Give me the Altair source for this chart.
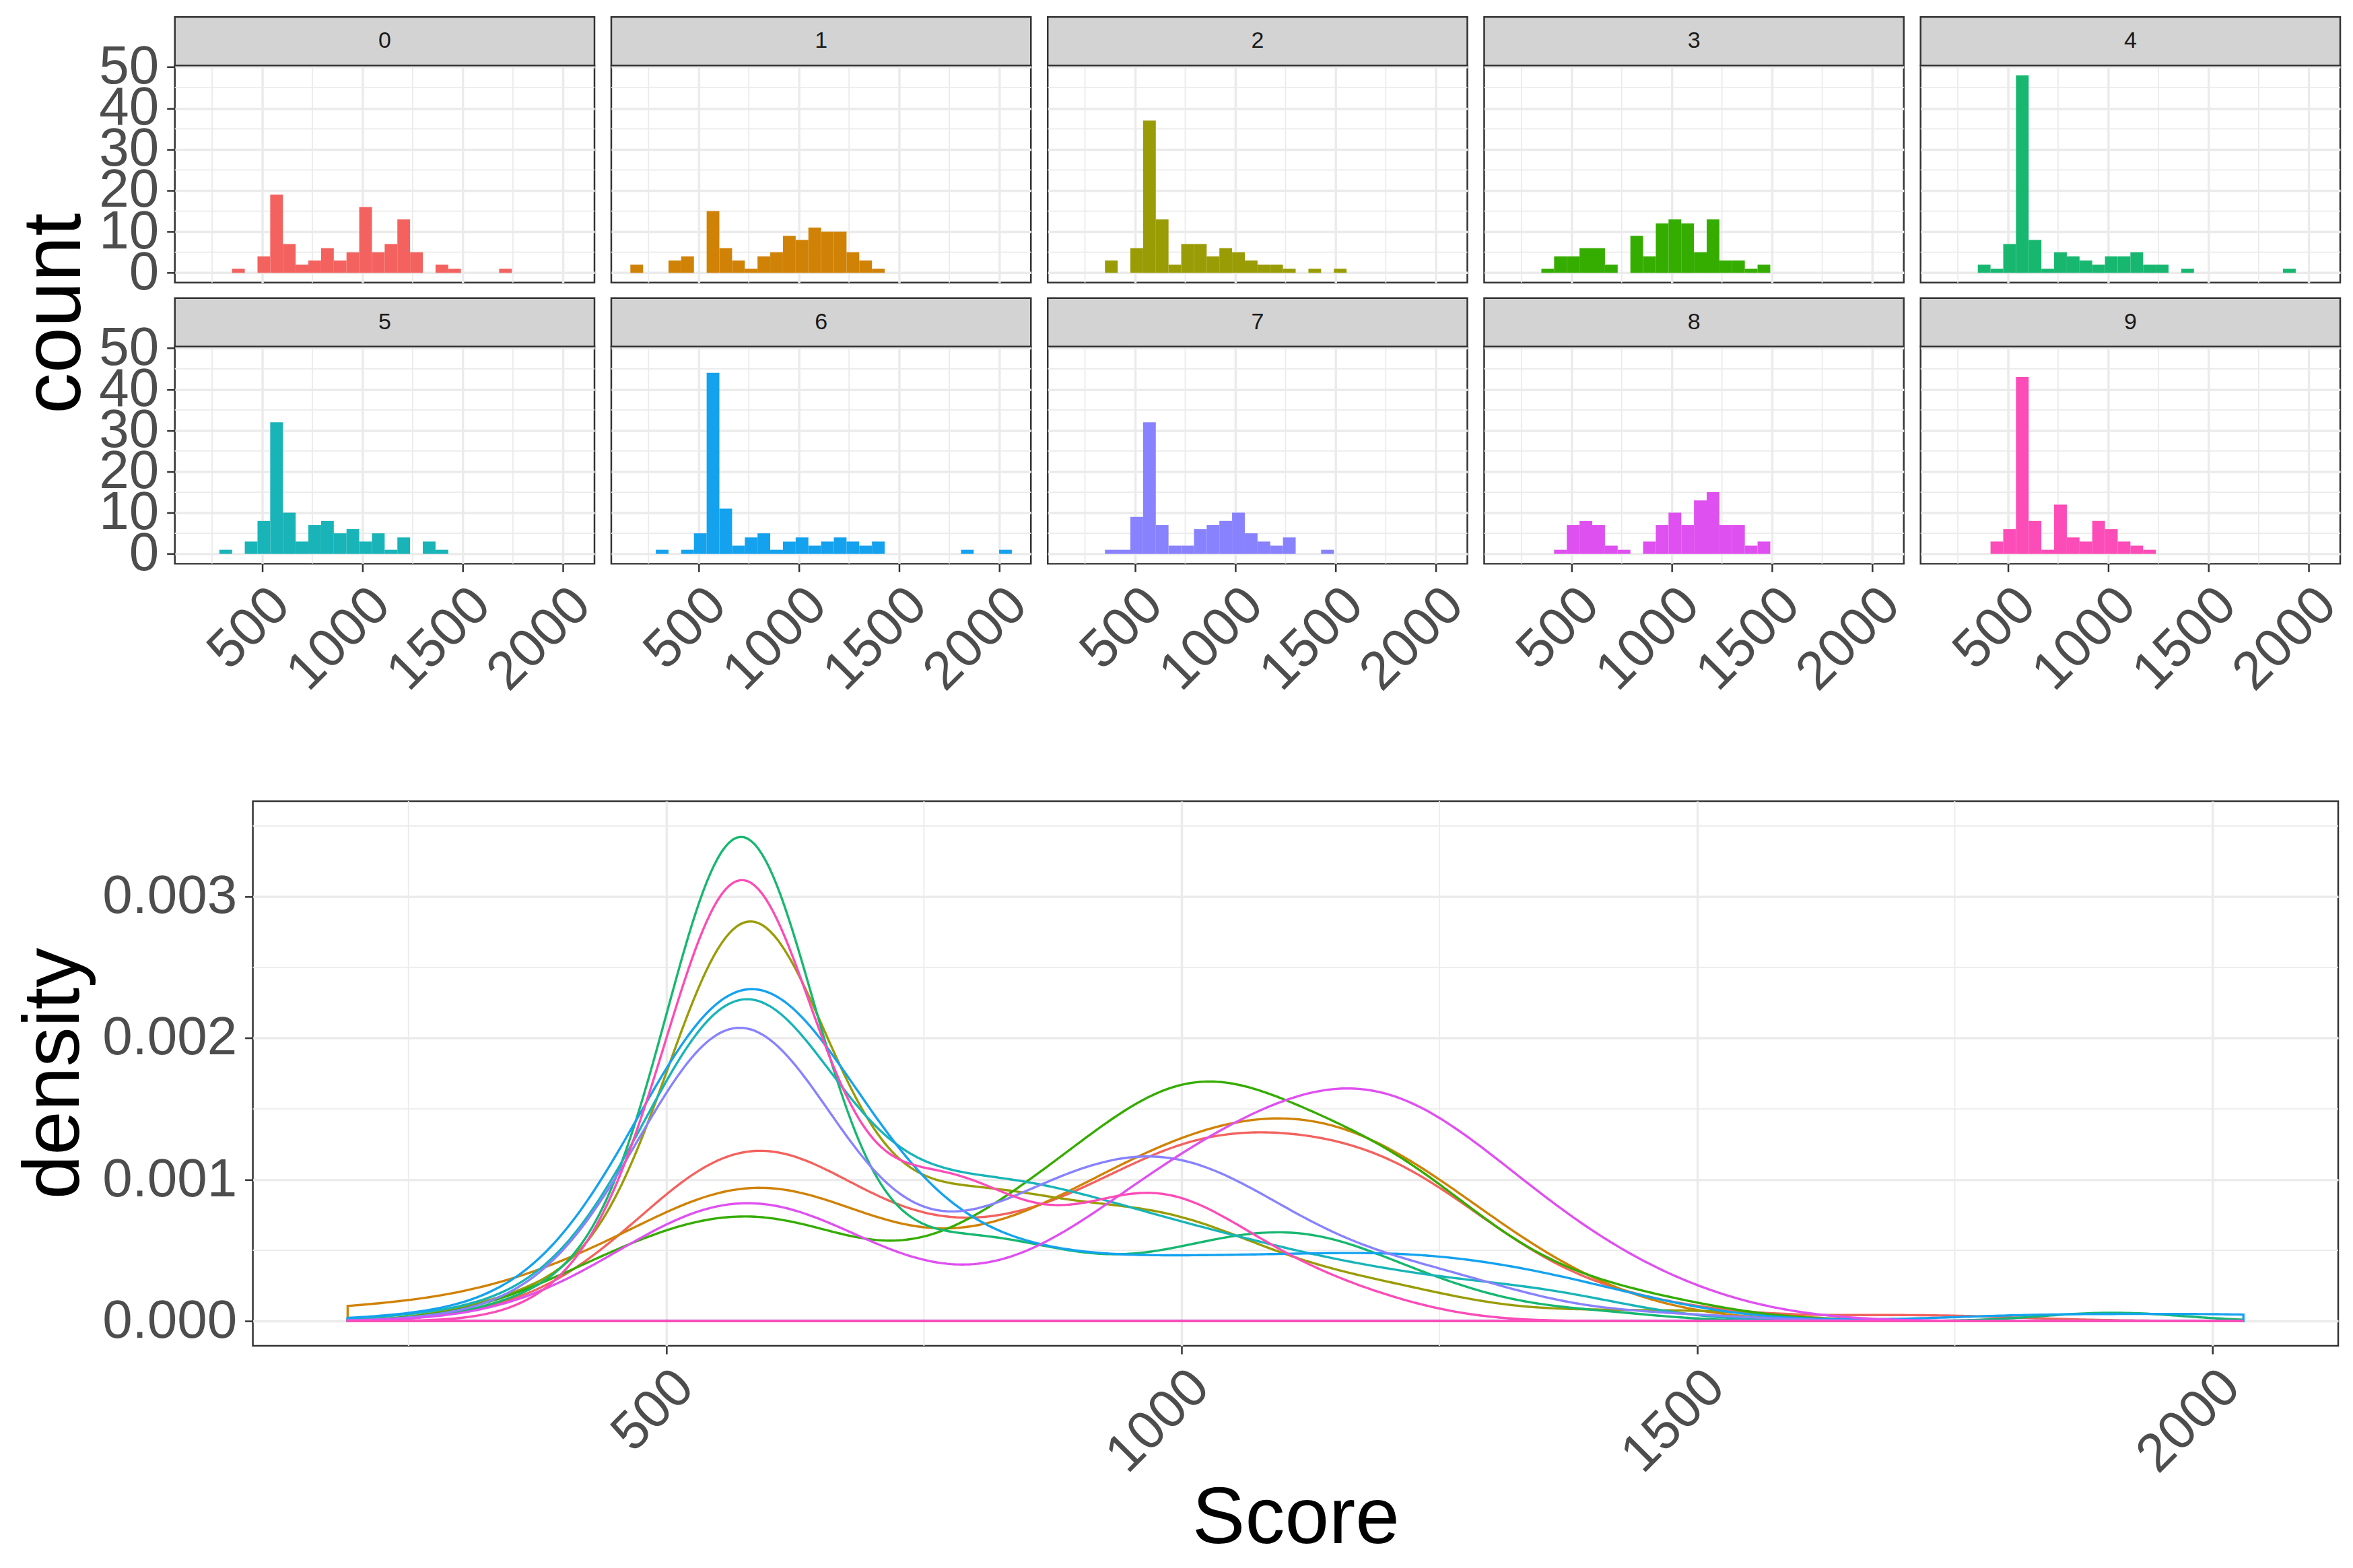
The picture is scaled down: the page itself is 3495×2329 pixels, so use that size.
import numpy as np
import pandas as pd
import altair as alt

# ---------------- data ----------------
GROUPS = [0, 1, 2, 3, 4, 5, 6, 7, 8, 9]
SCORE_MIN = 191.0          # smallest score (left end of the density curves)
SCORE_MAX = 2030.0         # largest score (right end of the density curves)
N_BINS = 30

COUNTS_0 = [0, 0, 0, 1, 0, 4, 19, 7, 2, 3, 6, 3, 5, 16, 5, 7, 13, 5, 0, 2, 1, 0, 0, 0, 1, 0, 0, 0, 0, 0]
COUNTS_1 = [2, 0, 0, 3, 4, 0, 15, 6, 3, 1, 4, 5, 9, 8, 11, 10, 10, 5, 3, 1, 0, 0, 0, 0, 0, 0, 0, 0, 0, 0]
COUNTS_2 = [0, 0, 0, 3, 0, 6, 37, 13, 2, 7, 7, 4, 6, 5, 3, 2, 2, 1, 0, 1, 0, 1, 0, 0, 0, 0, 0, 0, 0, 0]
COUNTS_3 = [0, 0, 0, 1, 4, 4, 6, 6, 2, 0, 9, 4, 12, 13, 12, 5, 13, 3, 3, 1, 2, 0, 0, 0, 0, 0, 0, 0, 0, 0]
COUNTS_4 = [0, 0, 0, 2, 1, 7, 48, 8, 1, 5, 4, 3, 2, 4, 4, 5, 2, 2, 0, 1, 0, 0, 0, 0, 0, 0, 0, 1, 0, 0]
COUNTS_5 = [0, 0, 1, 0, 3, 8, 32, 10, 3, 7, 8, 5, 6, 3, 5, 1, 4, 0, 3, 1, 0, 0, 0, 0, 0, 0, 0, 0, 0, 0]
COUNTS_6 = [0, 0, 1, 0, 1, 5, 44, 11, 2, 4, 5, 1, 3, 4, 2, 3, 4, 3, 2, 3, 0, 0, 0, 0, 0, 0, 1, 0, 0, 1]
COUNTS_7 = [0, 0, 0, 1, 1, 9, 32, 7, 2, 2, 6, 7, 8, 10, 5, 3, 2, 4, 0, 0, 1, 0, 0, 0, 0, 0, 0, 0, 0, 0]
COUNTS_8 = [0, 0, 0, 0, 1, 7, 8, 7, 2, 1, 0, 3, 7, 10, 7, 13, 15, 7, 7, 2, 3, 0, 0, 0, 0, 0, 0, 0, 0, 0]
COUNTS_9 = [0, 0, 0, 0, 3, 6, 43, 8, 1, 12, 4, 3, 8, 6, 3, 2, 1, 0, 0, 0, 0, 0, 0, 0, 0, 0, 0, 0, 0, 0]
COUNTS = [COUNTS_0, COUNTS_1, COUNTS_2, COUNTS_3, COUNTS_4,
          COUNTS_5, COUNTS_6, COUNTS_7, COUNTS_8, COUNTS_9]

COLORS = ["#F3625E", "#D08206", "#999C05", "#35AC00", "#17B770",
          "#18B4B8", "#14A2EF", "#8882FF", "#DF50F0", "#FC4CB7"]

X_MAJOR = [500, 1000, 1500, 2000]
X_MINOR = [250, 750, 1250, 1750]
COUNT_MAJOR = [0, 10, 20, 30, 40, 50]
COUNT_MINOR = [5, 15, 25, 35, 45]
DENS_MAJOR = [0.0, 0.001, 0.002, 0.003]
DENS_MINOR = [0.0005, 0.0015, 0.0025, 0.0035]
DENS_PEAK = 0.0035          # highest density

# ---------------- styles ----------------
FONT = "Liberation Sans"
GRID = "#EBEBEB"
FRAME = "#333333"
STRIP_FILL = "#D3D3D3"
PANEL_W, PANEL_H, STRIP_H = 624, 323, 72
DENS_W, DENS_H = 3101, 810
COUNT_TITLE_SIZE = 122
TITLE_SIZE = 118
LABEL_SIZE = 80

# ---------------- derived tables ----------------
bw = (SCORE_MAX - SCORE_MIN) / (N_BINS - 1)
centers = SCORE_MIN + bw * np.arange(N_BINS)

hist_rows = []
score_rows = []
for g in GROUPS:
    for k in range(N_BINS):
        hist_rows.append({"group": g, "x0": centers[k] - bw / 2, "x1": centers[k] + bw / 2,
                          "count": COUNTS[g][k]})
        for _ in range(COUNTS[g][k]):
            score_rows.append({"group": g, "score": float(centers[k])})
hist = pd.DataFrame(hist_rows)
scores = pd.DataFrame(score_rows)


def nrd0(v):
    v = np.asarray(v, float)
    sd = v.std(ddof=1)
    iqr = np.subtract(*np.percentile(v, [75, 25]))
    return 0.9 * min(sd, iqr / 1.34) * len(v) ** -0.2


lo_edge, hi_edge = SCORE_MIN - bw / 2, SCORE_MAX + bw / 2
span = hi_edge - lo_edge
fx_dom = [lo_edge - 0.05 * span, hi_edge + 0.05 * span]
cmax = max(max(c) for c in COUNTS)
fy_dom = [-0.05 * cmax, 1.05 * cmax]

# ---------------- facet panels ----------------
panels = []
for i, g in enumerate(GROUPS):
    row, col = divmod(i, 5)
    xs = alt.Scale(domain=fx_dom, nice=False, zero=False)
    ys = alt.Scale(domain=fy_dom, nice=False, zero=False)
    xaxis = alt.Axis(values=X_MAJOR, grid=True, labels=(row == 1), ticks=(row == 1),
                     domain=False, title=None, format="d", labelAngle=-45, labelAlign="right",
                     labelBaseline="top", labelPadding=9)
    yaxis = alt.Axis(values=COUNT_MAJOR, grid=True, labels=(col == 0), ticks=(col == 0),
                     domain=False, title=None, format="d", labelPadding=12)
    d = hist[hist.group == g]
    minor_x = alt.Chart(pd.DataFrame({"v": X_MINOR})).mark_rule(
        color=GRID, strokeWidth=1.8).encode(x=alt.X("v:Q", scale=xs, axis=xaxis))
    minor_y = alt.Chart(pd.DataFrame({"v": COUNT_MINOR})).mark_rule(
        color=GRID, strokeWidth=1.8).encode(y=alt.Y("v:Q", scale=ys, axis=yaxis))
    bars = alt.Chart(d).mark_bar(color=COLORS[g]).encode(
        x=alt.X("x0:Q", scale=xs, axis=xaxis), x2="x1:Q",
        y=alt.Y("count:Q", scale=ys, axis=yaxis), y2=alt.datum(0))
    sdf = pd.DataFrame({"label": [str(g)]})
    strip = alt.Chart(sdf).mark_rect(fill=STRIP_FILL, stroke=FRAME, strokeWidth=2.5).encode(
        x=alt.value(0), x2=alt.value(PANEL_W), y=alt.value(-STRIP_H), y2=alt.value(0))
    stext = alt.Chart(sdf).mark_text(font=FONT, fontSize=34, color="#1A1A1A").encode(
        text="label:N", x=alt.value(PANEL_W / 2), y=alt.value(-STRIP_H / 2))
    panels.append(alt.layer(minor_x, minor_y, bars, strip, stext).properties(
        width=PANEL_W, height=PANEL_H))

grid = alt.concat(*panels, columns=5, bounds="flush",
                  spacing=alt.RowColnumber(row=95, column=25))

count_title = alt.Chart(pd.DataFrame({"t": ["count"]})).mark_text(
    font=FONT, fontSize=COUNT_TITLE_SIZE, angle=270, color="black", align="center",
    baseline="middle"
).encode(text="t:N", x=alt.value(72), y=alt.value(369)).properties(
    width=129, height=741, view=alt.ViewConfig(stroke="transparent"))

top = alt.hconcat(count_title, grid, spacing=0)

# ---------------- density panel ----------------
dx_dom = [SCORE_MIN - 0.05 * (SCORE_MAX - SCORE_MIN), SCORE_MAX + 0.05 * (SCORE_MAX - SCORE_MIN)]
dy_dom = [-0.05 * DENS_PEAK, 1.05 * DENS_PEAK]
dxs = alt.Scale(domain=dx_dom, nice=False, zero=False)
dys = alt.Scale(domain=dy_dom, nice=False, zero=False)
dxaxis = alt.Axis(values=X_MAJOR, grid=True, domain=False, title="Score", format="d",
                  labelAngle=-45, labelAlign="right", labelBaseline="top",
                  labelPadding=9, titlePadding=0)
dyaxis = alt.Axis(values=DENS_MAJOR, grid=True, domain=False, title=None,
                  format=".3f", labelPadding=12)

dlayers = [
    alt.Chart(pd.DataFrame({"v": X_MINOR})).mark_rule(color=GRID, strokeWidth=1.8).encode(
        x=alt.X("v:Q", scale=dxs, axis=dxaxis)),
    alt.Chart(pd.DataFrame({"v": DENS_MINOR})).mark_rule(color=GRID, strokeWidth=1.8).encode(
        y=alt.Y("v:Q", scale=dys, axis=dyaxis)),
]
for g in GROUPS:
    sub = scores[scores.group == g]
    dlayers.append(
        alt.Chart(scores).transform_filter(alt.datum.group == g).transform_density(
            "score", as_=["value", "density"], bandwidth=float(nrd0(sub.score)),
            extent=[SCORE_MIN, SCORE_MAX], steps=512
        ).mark_area(fill=COLORS[g], fillOpacity=0, stroke=COLORS[g], strokeWidth=3.4).encode(
            x=alt.X("value:Q", scale=dxs, axis=dxaxis),
            y=alt.Y("density:Q", scale=dys, axis=dyaxis),
            y2=alt.datum(0))
    )
density = alt.layer(*dlayers).properties(width=DENS_W, height=DENS_H)

density_title = alt.Chart(pd.DataFrame({"t": ["density"]})).mark_text(
    font=FONT, fontSize=TITLE_SIZE, angle=270, color="black", align="center", baseline="middle"
).encode(text="t:N", x=alt.value(72)).properties(
    width=138, height=DENS_H, view=alt.ViewConfig(stroke="transparent"))

bottom = alt.hconcat(density_title, density, spacing=0)

chart = alt.vconcat(top, bottom, spacing=146).properties(
    padding={"top": 13, "left": 0, "right": 0, "bottom": 0}
).configure(font=FONT).configure_view(
    stroke=FRAME, strokeWidth=2.5
).configure_axis(
    labelFont=FONT, labelFontSize=LABEL_SIZE, labelColor="#4D4D4D", labelLimit=600,
    labelOverlap=False, labelFlush=False,
    tickColor=FRAME, tickWidth=2.5, tickSize=12,
    gridColor=GRID, gridWidth=3.5,
    titleFont=FONT, titleFontSize=TITLE_SIZE, titleFontWeight="normal", titleColor="black"
)

chart.save("out.html", embed_options={"renderer": "svg", "actions": False})
